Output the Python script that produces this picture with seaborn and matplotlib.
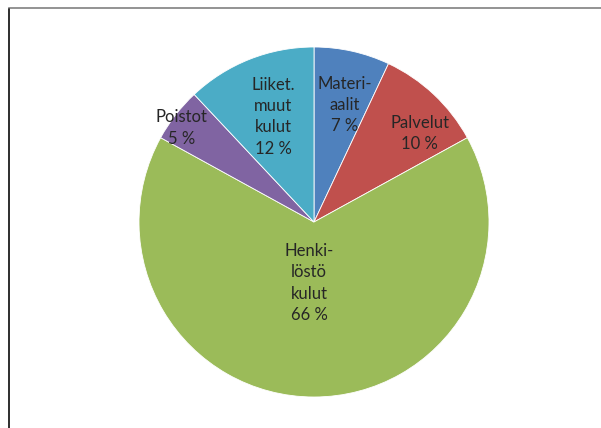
import numpy as np
import matplotlib.pyplot as plt
import seaborn as sns
from matplotlib.patches import Rectangle

sns.set_theme(style='white')
plt.rcParams['font.family'] = ['Lato', 'DejaVu Sans']

# Data
labels = ['Materi-\naalit', 'Palvelut', 'Henki-\nlöstö\nkulut', 'Poistot', 'Liiket.\nmuut\nkulut']
shares = [7, 10, 66, 5, 12]
colors = ['#4F81BD', '#C0504D', '#9BBB59', '#8064A2', '#4BACC6']
# label placement: distance from centre (radius units), angle shift from slice middle (deg)
label_dist = [0.69, 0.79, 0.35, 0.93, 0.645]
label_shift = [-2.2, -6.8, -4.7, 2.5, -0.3]

fig = plt.figure(figsize=(6.01, 4.28), dpi=100)
fig.patch.set_facecolor('white')
W, H = 601, 428
size = 385
ax = fig.add_axes([(314 - size / 2) / W, (206 - size / 2) / H, size / W, size / H])

wedges, _ = ax.pie(shares, colors=colors, startangle=90, counterclock=False,
                   wedgeprops=dict(edgecolor='white', linewidth=0.6))

total = sum(shares)
start = 90.0
for lab, v, d, s in zip(labels, shares, label_dist, label_shift):
    mid = start - v / total * 360 / 2 + s
    start -= v / total * 360
    x = d * np.cos(np.radians(mid))
    y = d * np.sin(np.radians(mid))
    ax.text(x, y, f'{lab}\n{v} %', ha='center', va='center', fontsize=12,
            color='#262626', linespacing=1.4)

ax.set_xlim(-1.1, 1.1)
ax.set_ylim(-1.1, 1.1)
ax.set_aspect('equal')
ax.axis('off')

# chart border (cropped frame)
fig.add_artist(Rectangle((8.5 / W, -0.1), 1.0, (428 - 8.5) / H + 0.1,
                         transform=fig.transFigure, fill=False,
                         edgecolor='#808080', linewidth=1.2))
fig.add_artist(plt.Line2D([8.5 / W, 8.5 / W], [0, (428 - 8.5) / H],
                          transform=fig.transFigure, color='#202020', linewidth=1.2))

fig.savefig('out.png', dpi=100)
